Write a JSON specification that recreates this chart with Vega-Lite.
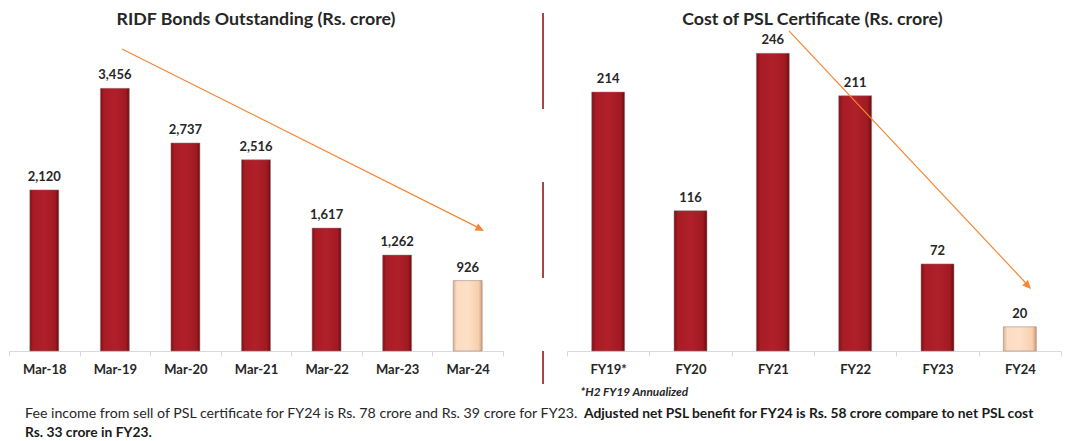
{
  "$schema": "https://vega.github.io/schema/vega-lite/v6.json",
  "background": "white",
  "padding": {"left": 8, "top": 10, "right": 0, "bottom": 0},
  "spacing": 64,
  "bounds": "flush",
  "config": {
    "view": {"stroke": null},
    "font": "Lato",
    "axis": {
      "domainColor": "#d9d9d9", "tickColor": "#d9d9d9", "tickSize": 5, "tickBand": "extent",
      "labelFont": "Lato", "labelFontSize": 13, "labelFontWeight": "bold", "labelColor": "#262626",
      "labelPadding": 7, "labelAngle": 0
    }
  },
  "hconcat": [
    {
      "width": 494,
      "height": 310,
      "data": {"values": [
        {"period": "Mar-18", "value": 2120, "latest": false},
        {"period": "Mar-19", "value": 3456, "latest": false},
        {"period": "Mar-20", "value": 2737, "latest": false},
        {"period": "Mar-21", "value": 2516, "latest": false},
        {"period": "Mar-22", "value": 1617, "latest": false},
        {"period": "Mar-23", "value": 1262, "latest": false},
        {"period": "Mar-24", "value": 926, "latest": true}
      ]},
      "resolve": {"scale": {"x": "independent"}},
      "layer": [
        {
          "mark": {"type": "bar", "width": {"band": 0.41}, "stroke": "#8c7c7c", "strokeWidth": 0.5},
          "encoding": {
            "x": {"field": "period", "type": "nominal", "sort": null, "scale": {"paddingInner": 0, "paddingOuter": 0}, "axis": {"title": null}},
            "y": {"field": "value", "type": "quantitative", "scale": {"domain": [0, 4079], "nice": false, "zero": false}, "axis": null},
            "color": {
              "condition": {"test": "datum.latest", "value": {"gradient": "linear", "x1": 0, "y1": 0, "x2": 1, "y2": 0, "stops": [{"offset": 0, "color": "#e2b08c"}, {"offset": 0.12, "color": "#fcdcc2"}, {"offset": 0.5, "color": "#fde0c8"}, {"offset": 0.88, "color": "#f7cfae"}, {"offset": 1, "color": "#cf9a74"}]}},
              "value": {"gradient": "linear", "x1": 0, "y1": 0, "x2": 1, "y2": 0, "stops": [{"offset": 0, "color": "#7e0f16"}, {"offset": 0.12, "color": "#a81c24"}, {"offset": 0.5, "color": "#b0202a"}, {"offset": 0.88, "color": "#a01a22"}, {"offset": 1, "color": "#6a0b10"}]}
            }
          }
        },
        {
          "mark": {"type": "text", "dy": -9, "baseline": "alphabetic", "fontWeight": "bold", "fontSize": 13, "color": "#262626"},
          "encoding": {
            "x": {"field": "period", "type": "nominal", "sort": null, "scale": {"paddingInner": 0, "paddingOuter": 0}, "axis": null},
            "y": {"field": "value", "type": "quantitative", "scale": {"domain": [0, 4079], "nice": false, "zero": false}, "axis": null},
            "text": {"field": "value", "type": "quantitative", "format": ","}
          }
        },
        {
          "data": {"values": [{"t": "RIDF Bonds Outstanding (Rs. crore)"}]},
          "mark": {"type": "text", "align": "center", "baseline": "middle", "fontSize": 17.8, "fontWeight": "bold", "color": "#262626"},
          "encoding": {
            "x": {"datum": 3.5, "type": "quantitative", "scale": {"domain": [0, 7], "nice": false, "zero": false}, "axis": null},
            "y": {"datum": 4355, "type": "quantitative", "scale": {"domain": [0, 4079], "nice": false, "zero": false}, "axis": null},
            "text": {"field": "t"}
          }
        },
        {
          "data": {"values": [{}]},
          "mark": {"type": "rule", "color": "#f58634", "strokeWidth": 1.2},
          "encoding": {
            "x": {"datum": 1.601, "type": "quantitative", "scale": {"domain": [0, 7], "nice": false, "zero": false}, "axis": null},
            "x2": {"datum": 6.70},
            "y": {"datum": 3974, "type": "quantitative", "scale": {"domain": [0, 4079], "nice": false, "zero": false}, "axis": null},
            "y2": {"datum": 1600}
          }
        },
        {
          "data": {"values": [{}]},
          "mark": {"type": "point", "shape": "M0,0L-1,-0.45L-1,0.45Z", "filled": true, "opacity": 1, "color": "#f58634", "size": 300, "angle": 26.7},
          "encoding": {
            "x": {"datum": 6.731, "type": "quantitative", "scale": {"domain": [0, 7], "nice": false, "zero": false}, "axis": null},
            "y": {"datum": 1579, "type": "quantitative", "scale": {"domain": [0, 4079], "nice": false, "zero": false}, "axis": null}
          }
        },
        {
          "data": {"values": [{}]},
          "mark": {"type": "rule", "color": "#8b0a0a", "strokeWidth": 1.5, "strokeDash": [96, 73]},
          "encoding": {
            "x": {"datum": 7.567, "type": "quantitative", "scale": {"domain": [0, 7], "nice": false, "zero": false}, "axis": null},
            "y": {"datum": 4447, "type": "quantitative", "scale": {"domain": [0, 4079], "nice": false, "zero": false}, "axis": null},
            "y2": {"datum": -434}
          }
        },
        {
          "data": {"values": [{"t": "Fee income from sell of PSL certificate for FY24 is Rs. 78 crore and Rs. 39 crore for FY23."}]},
          "mark": {"type": "text", "align": "left", "baseline": "middle", "fontSize": 14.2, "fontWeight": "normal", "color": "#262626"},
          "encoding": {
            "x": {"datum": 0.227, "type": "quantitative", "scale": {"domain": [0, 7], "nice": false, "zero": false}, "axis": null},
            "y": {"datum": -829, "type": "quantitative", "scale": {"domain": [0, 4079], "nice": false, "zero": false}, "axis": null},
            "text": {"field": "t"}
          }
        },
        {
          "data": {"values": [{"t": "Adjusted net PSL benefit for FY24 is Rs. 58 crore compare to net PSL cost"}]},
          "mark": {"type": "text", "align": "left", "baseline": "middle", "fontSize": 13.8, "fontWeight": "bold", "color": "#1a1a1a"},
          "encoding": {
            "x": {"datum": 8.148, "type": "quantitative", "scale": {"domain": [0, 7], "nice": false, "zero": false}, "axis": null},
            "y": {"datum": -829, "type": "quantitative", "scale": {"domain": [0, 4079], "nice": false, "zero": false}, "axis": null},
            "text": {"field": "t"}
          }
        },
        {
          "data": {"values": [{"t": "Rs. 33 crore in FY23."}]},
          "mark": {"type": "text", "align": "left", "baseline": "middle", "fontSize": 13.8, "fontWeight": "bold", "color": "#1a1a1a"},
          "encoding": {
            "x": {"datum": 0.227, "type": "quantitative", "scale": {"domain": [0, 7], "nice": false, "zero": false}, "axis": null},
            "y": {"datum": -1079, "type": "quantitative", "scale": {"domain": [0, 4079], "nice": false, "zero": false}, "axis": null},
            "text": {"field": "t"}
          }
        }
      ]
    },
    {
      "width": 494,
      "height": 310,
      "data": {"values": [
        {"period": "FY19*", "value": 214, "latest": false},
        {"period": "FY20", "value": 116, "latest": false},
        {"period": "FY21", "value": 246, "latest": false},
        {"period": "FY22", "value": 211, "latest": false},
        {"period": "FY23", "value": 72, "latest": false},
        {"period": "FY24", "value": 20, "latest": true}
      ]},
      "resolve": {"scale": {"x": "independent"}},
      "layer": [
        {
          "mark": {"type": "bar", "width": {"band": 0.4}, "stroke": "#8c7c7c", "strokeWidth": 0.5},
          "encoding": {
            "x": {"field": "period", "type": "nominal", "sort": null, "scale": {"paddingInner": 0, "paddingOuter": 0},
                  "axis": {"title": "*H2 FY19 Annualized", "titleFont": "Lato", "titleFontSize": 11.8, "titleFontWeight": "bold", "titleFontStyle": "italic", "titleColor": "#262626", "titleAnchor": "start", "titleAlign": "left", "titleBaseline": "middle", "titleX": 13, "titleY": 40}},
            "y": {"field": "value", "type": "quantitative", "scale": {"domain": [0, 256.2], "nice": false, "zero": false}, "axis": null},
            "color": {
              "condition": {"test": "datum.latest", "value": {"gradient": "linear", "x1": 0, "y1": 0, "x2": 1, "y2": 0, "stops": [{"offset": 0, "color": "#e2b08c"}, {"offset": 0.12, "color": "#fcdcc2"}, {"offset": 0.5, "color": "#fde0c8"}, {"offset": 0.88, "color": "#f7cfae"}, {"offset": 1, "color": "#cf9a74"}]}},
              "value": {"gradient": "linear", "x1": 0, "y1": 0, "x2": 1, "y2": 0, "stops": [{"offset": 0, "color": "#7e0f16"}, {"offset": 0.12, "color": "#a81c24"}, {"offset": 0.5, "color": "#b0202a"}, {"offset": 0.88, "color": "#a01a22"}, {"offset": 1, "color": "#6a0b10"}]}
            }
          }
        },
        {
          "mark": {"type": "text", "dy": -9, "baseline": "alphabetic", "fontWeight": "bold", "fontSize": 13, "color": "#262626"},
          "encoding": {
            "x": {"field": "period", "type": "nominal", "sort": null, "scale": {"paddingInner": 0, "paddingOuter": 0}, "axis": null},
            "y": {"field": "value", "type": "quantitative", "scale": {"domain": [0, 256.2], "nice": false, "zero": false}, "axis": null},
            "text": {"field": "value", "type": "quantitative", "format": ","}
          }
        },
        {
          "data": {"values": [{"t": "Cost of PSL Certificate (Rs. crore)"}]},
          "mark": {"type": "text", "align": "center", "baseline": "middle", "fontSize": 17.8, "fontWeight": "bold", "color": "#262626"},
          "encoding": {
            "x": {"datum": 2.98, "type": "quantitative", "scale": {"domain": [0, 6], "nice": false, "zero": false}, "axis": null},
            "y": {"datum": 273.6, "type": "quantitative", "scale": {"domain": [0, 256.2], "nice": false, "zero": false}, "axis": null},
            "text": {"field": "t"}
          }
        },
        {
          "data": {"values": [{}]},
          "mark": {"type": "rule", "color": "#f58634", "strokeWidth": 1.2},
          "encoding": {
            "x": {"datum": 2.696, "type": "quantitative", "scale": {"domain": [0, 6], "nice": false, "zero": false}, "axis": null},
            "x2": {"datum": 5.61},
            "y": {"datum": 264.5, "type": "quantitative", "scale": {"domain": [0, 256.2], "nice": false, "zero": false}, "axis": null},
            "y2": {"datum": 53.5}
          }
        },
        {
          "data": {"values": [{}]},
          "mark": {"type": "point", "shape": "M0,0L-1,-0.45L-1,0.45Z", "filled": true, "opacity": 1, "color": "#f58634", "size": 300, "angle": 46.8},
          "encoding": {
            "x": {"datum": 5.636, "type": "quantitative", "scale": {"domain": [0, 6], "nice": false, "zero": false}, "axis": null},
            "y": {"datum": 51.2, "type": "quantitative", "scale": {"domain": [0, 256.2], "nice": false, "zero": false}, "axis": null}
          }
        }
      ]
    }
  ]
}
